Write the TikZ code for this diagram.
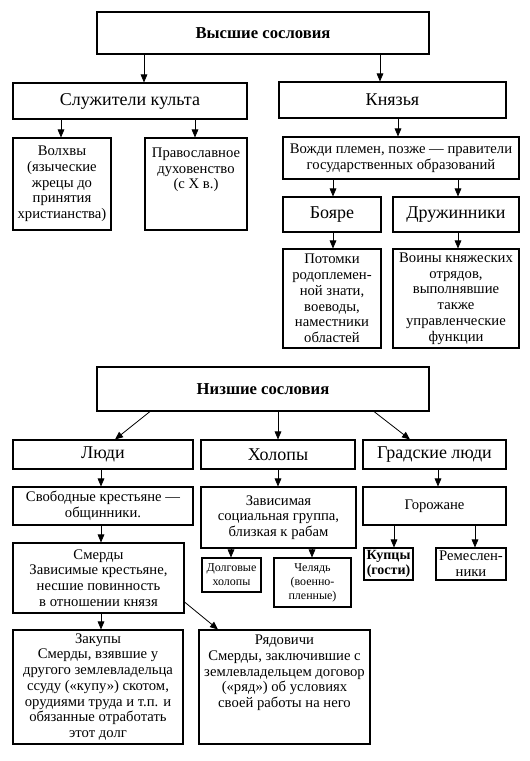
\documentclass[tikz,border=0pt]{standalone}
\usepackage{fontspec}
\setmainfont{Liberation Serif}
\usetikzlibrary{arrows.meta}

\begin{document}
\begin{tikzpicture}[x=0.75pt, y=-0.75pt, >={Triangle[length=6pt,width=5pt]},
	box/.style={draw, line width=0.8pt, align=center, inner sep=1pt, font=\fontsize{11}{11.8}\selectfont},
	head/.style={box, font=\fontsize{13.5}{15}\selectfont},
	title/.style={box, font=\fontsize{12.5}{15}\selectfont\bfseries},
	small/.style={box, font=\fontsize{9}{10.5}\selectfont},
	wh/.style 2 args={minimum width=#1*0.75pt, minimum height=#2*0.75pt}]

				\useasboundingbox (0,0) rectangle (529,761);

				% upper estates
				\node [title, wh={332}{42}] (high) at (263,33) {Высшие сословия};
				\node [head, wh={234}{36}] (cult) at (130,101) {Служители культа};
				\node [head, wh={227}{36}] (princes) at (392.5,100) {Князья};

				% clergy
				\node [box, wh={98}{92}] (volhvy) at (62,184) {Волхвы\\(языческие\\жрецы до\\принятия\\христианства)};
				\node [box, wh={102}{92}] (ortho) at (196,184) {Православное\\духовенство\\(с X в.)\\ \mbox{}\\ \mbox{}};

				% princes and their people
				\node [box, wh={236}{42}] (chiefs) at (401,158) {Вожди племен, позже — правители\\государственных образований};
				\node [head, wh={98}{35}] (boyars) at (332,214.5) {Бояре};
				\node [head, wh={126}{35}] (druzh) at (456,214.5) {Дружинники};
				\node [box, wh={98}{99}] (boyars-d) at (332,298.5) {Потомки\\родоплемен-\\ной знати,\\воеводы,\\наместники\\областей};
				\node [box, wh={126}{99}] (druzh-d) at (456,298.5) {Воины княжеских\\отрядов,\\выполнявшие\\также\\управленческие\\функции};

				% lower estates
				\node [title, wh={332}{44}] (low) at (263,389) {Низшие сословия};
				\node [head, wh={180}{29}] (people) at (103,454.5) {Люди};
				\node [head, wh={154}{29}] (holopy) at (278,454.5) {Холопы};
				\node [head, wh={143}{29}] (city) at (434.5,454.5) {Градские люди};

				% people
				\node [box, wh={180}{38}] (free) at (103,506) {Свободные крестьяне —\\общинники.};
				\node [box, wh={171}{70}] (smerdy) at (98.5,578) {Смерды\\Зависимые крестьяне,\\несшие повинность\\в отношении князя};
				\node [box, wh={170}{114}] (zakupy) at (98,687) {Закупы\\Смерды, взявшие у\\другого землевладельца\\ссуду («купу») скотом,\\орудиями труда и т.п. и\\обязанные отработать\\этот долг};
				\node [box, wh={171}{114}] (ryad) at (284.5,687) {Рядовичи\\Смерды, заключившие с\\землевладельцем договор\\(«ряд») об условиях\\своей работы на него\\ \mbox{}\\ \mbox{}};

				% holopy
				\node [box, wh={155}{61}] (dep) at (278.5,517.5) {Зависимая\\социальная группа,\\близкая к рабам};
				\node [small, wh={59}{34}] (debt) at (231.5,575) {Долговые\\холопы};
				\node [small, wh={77}{49}] (chelyad) at (312.5,582.5) {Челядь\\(военно-\\пленные)};

				% town people
				\node [box, wh={49}{32}, font=\fontsize{10.5}{11.8}\selectfont\bfseries] (merch) at (388.5,564) {Купцы\\(гости)};
				\node [box, wh={143}{38}] (towns) at (434.5,506) {Горожане};
				\node [box, wh={70}{32}] (craft) at (471,564) {Ремеслен-\\ники};

				% straight arrows
				\foreach \a/\b/\x in {high/cult/144, high/princes/380, cult/volhvy/61, cult/ortho/195,
						princes/chiefs/398, chiefs/boyars/333, chiefs/druzh/458, boyars/boyars-d/333,
						druzh/druzh-d/458, low/holopy/278, people/free/101, holopy/dep/278,
						city/towns/438, free/smerdy/101, dep/debt/231, dep/chelyad/312,
						towns/merch/394, towns/craft/475, smerdy/zakupy/101}
					\draw [->, line width=0.6pt] (\x,0 |- \a.south) -- (\x,0 |- \b.north);

				% slanted arrows
				\draw [->, line width=0.6pt] (150,0 |- low.south) -- (115,0 |- people.north);
				\draw [->, line width=0.6pt] (374,0 |- low.south) -- (410,0 |- city.north);
				\draw [->, line width=0.6pt] (smerdy.east |- 0,602) -- (218,0 |- ryad.north);

\end{tikzpicture}
\end{document}
